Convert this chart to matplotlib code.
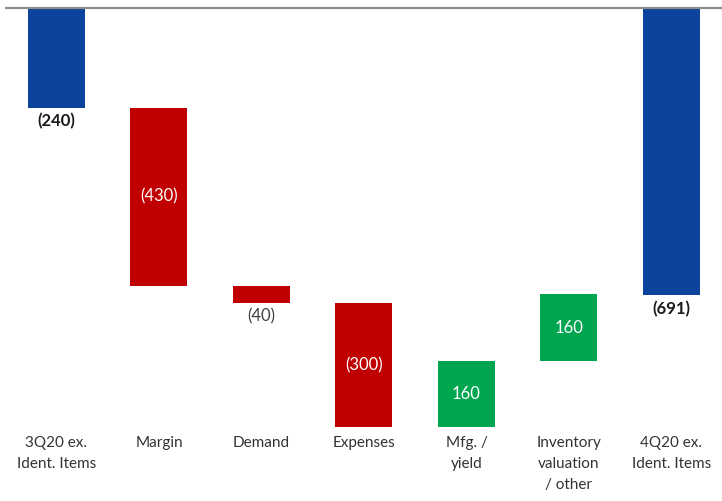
import matplotlib.pyplot as plt
import matplotlib.transforms as mtransforms

# waterfall data (values in $M)
categories = ['3Q20 ex.\nIdent. Items', 'Margin', 'Demand', 'Expenses',
              'Mfg. /\nyield', 'Inventory\nvaluation\n/ other', '4Q20 ex.\nIdent. Items']
changes = [-240, -430, -40, -300, 160, 160, -691]
labels = ['(240)', '(430)', '(40)', '(300)', '160', '160', '(691)']
kinds = ['total', 'step', 'step', 'step', 'step', 'step', 'total']

BLUE = '#0C439C'
RED = '#C00000'
GREEN = '#00A54F'

plt.rcParams['font.family'] = ['Lato', 'DejaVu Sans']

fig = plt.figure(figsize=(7.22, 5.01), dpi=100)
ax = fig.add_axes([5 / 722, 0, 717 / 722, 1])
ax.set_xlim(-0.502, 6.493)
ax.set_ylim(-1188, 19.3)
ax.axis('off')

# baseline on top
ax.axhline(0, color='#8C8C8C', lw=1.6, zorder=3)

running = 0
for i, (cat, ch, lab, kind) in enumerate(zip(categories, changes, labels, kinds)):
    if kind == 'total':
        bottom, top = 0, ch
        running = ch
        color = BLUE
    else:
        bottom = running
        top = running + ch
        running = top
        color = RED if ch < 0 else GREEN
    ax.bar(i, top - bottom, bottom=bottom, width=0.556, color=color, zorder=2)
    lo = min(top, bottom)
    mid = (top + bottom) / 2
    if kind == 'total':
        ax.text(i, lo - 14, lab, ha='center', va='top', fontsize=12,
                fontweight='bold', color='#1a1a1a')
    elif abs(ch) < 100:
        ax.text(i, lo - 14, lab, ha='center', va='top', fontsize=12,
                color='#404040')
    else:
        ax.text(i, mid, lab, ha='center', va='center', fontsize=12,
                color='white')

# category labels under the bars
trans = mtransforms.blended_transform_factory(ax.transData, ax.transAxes)
for i, cat in enumerate(categories):
    ax.text(i, 1 - 436 / 501, cat, transform=trans, ha='center', va='top',
            fontsize=11, color='#333333', linespacing=1.65)

fig.savefig('out.png', dpi=100)
